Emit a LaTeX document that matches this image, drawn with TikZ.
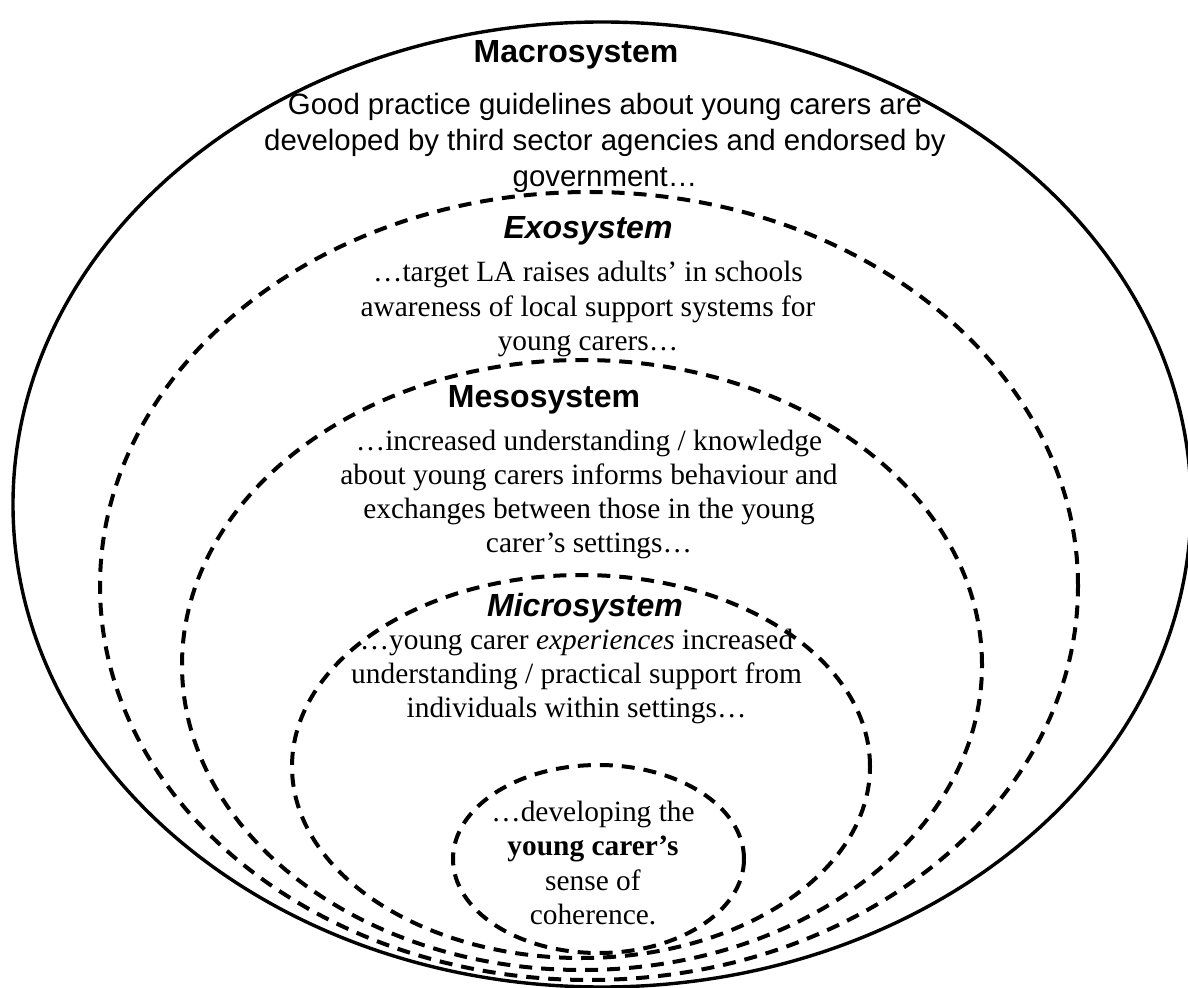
\documentclass[tikz,border=0pt]{standalone}
\usepackage{fontspec}
\setmainfont{Liberation Serif}
\newfontfamily\arialfont{Liberation Sans}
\usetikzlibrary{shapes.geometric}
\begin{document}
\begin{tikzpicture}[x=0.5pt,y=-0.5pt,
  solidring/.style={draw, ellipse, line width=1.7pt, inner sep=0pt, outer sep=0pt},
  dashring/.style={draw, ellipse, line width=2pt, dash pattern=on 6.5pt off 4.5pt, inner sep=0pt, outer sep=0pt},
  sysbold/.style={font=\arialfont\bfseries\fontsize{16}{19}\selectfont, inner sep=0pt},
  sysboldit/.style={font=\arialfont\bfseries\itshape\fontsize{16}{19}\selectfont, inner sep=0pt},
  sansbody/.style={font=\arialfont\fontsize{14.7}{18}\selectfont, align=center, inner sep=0pt},
  serifbody/.style={font=\fontsize{14.7}{17.15}\selectfont, align=center, inner sep=0pt}]
\useasboundingbox (0,0) rectangle (1188,988);
% rings
\node[solidring, minimum width=589pt, minimum height=482.5pt] (macro) at (602,504.5) {};
\node[dashring, minimum width=489pt, minimum height=394pt] (exo) at (589,586) {};
\node[dashring, minimum width=400pt, minimum height=305pt] (meso) at (582,665) {};
\node[dashring, minimum width=289pt, minimum height=191.5pt] (micro) at (581,766.5) {};
\node[dashring, minimum width=145.5pt, minimum height=94pt] (inner) at (598.5,859) {};
% titles
\node[sysbold] (macrot) at (576,55) {Macrosystem};
\node[sysboldit] (exot) at (588,231) {Exosystem};
\node[sysbold] (mesot) at (544,400) {Mesosystem};
\node[sysboldit] (microt) at (585,608) {Microsystem};
% texts
\node[sansbody] (macrob) at (605,143) {Good practice guidelines about young carers are\\developed by third sector agencies and endorsed by\\government…};
\node[serifbody] (exob) at (588,309) {…target LA raises adults’ in schools\\awareness of local support systems for\\young carers…};
\node[serifbody] (mesob) at (589,494.5) {…increased understanding / knowledge\\about young carers informs behaviour and\\exchanges between those in the young\\carer’s settings…};
\node[serifbody] (microb) at (576.5,676.5) {…young carer \textit{experiences} increased\\understanding / practical support from\\individuals within settings…};
\node[serifbody] (innerb) at (593,863) {…developing the\\\textbf{young carer’s}\\sense of\\coherence.};
\end{tikzpicture}
\end{document}
